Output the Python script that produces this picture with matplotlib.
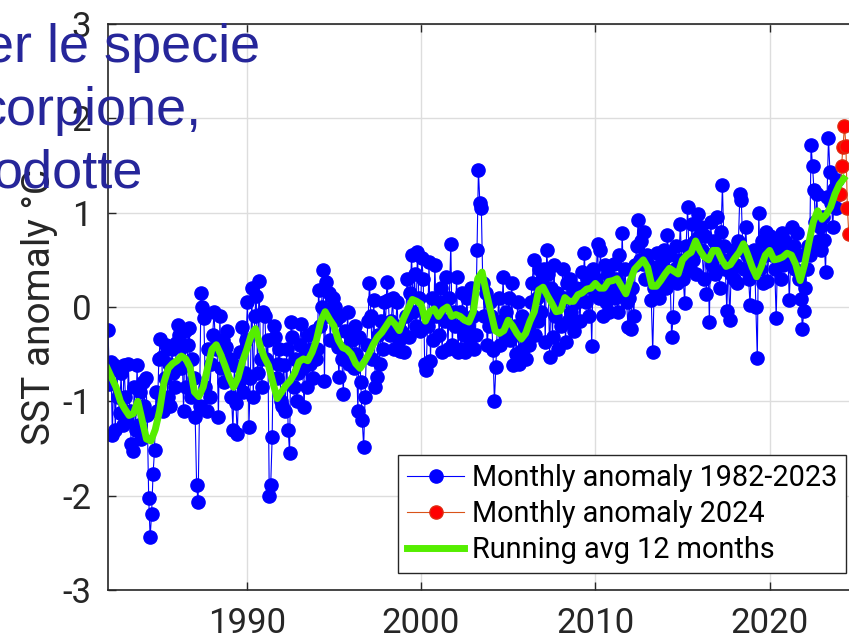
import numpy as np
import matplotlib.pyplot as plt

plt.rcParams['font.family'] = ['Roboto', 'DejaVu Sans']
plt.rcParams['axes.unicode_minus'] = False

# monthly SST anomaly (°C), Jan 1982 .. Dec 2023, one row per year
anom_82_23 = [
    -0.24, -0.82, -0.58, -1.36, -0.62, -1.30, -0.66, -0.95, -1.12, -0.70, -1.25, -0.62,  # 1982
    -0.95, -1.20, -0.60, -1.10, -1.45, -1.53, -0.85, -1.30, -0.62, -1.25, -0.90, -1.40,  # 1983
    -0.80, -1.05, -0.75, -1.15, -2.02, -2.44, -2.19, -1.77, -1.52, -0.90, -1.10, -0.55,  # 1984
    -0.34, -0.53, -1.10, -0.75, -0.40, -0.95, -0.60, -1.05, -0.45, -0.70, -0.85, -0.38,  # 1985
    -0.19, -0.30, -0.65, -0.42, -1.10, -0.25, -0.85, -0.40, -0.22, -0.95, -0.55, -0.75,  # 1986
    -1.17, -1.89, -2.07, -1.05, 0.15, 0.00, -0.12, -0.85, -1.10, -0.45, -0.95, -0.60,    # 1987
    -0.30, -0.05, -0.45, -0.38, -1.17, -0.10, -0.65, -0.35, -0.80, -0.42, -0.25, -0.55,  # 1988
    -0.55, -0.95, -1.30, -0.62, -1.02, -1.35, -0.80, -0.48, -0.21, -0.90, -0.70, -0.35,  # 1989
    0.05, -1.27, -0.75, 0.20, -0.95, -0.10, 0.12, -0.70, 0.28, -0.55, -0.85, -0.05,      # 1990
    -0.10, -0.55, -0.35, -2.00, -1.89, -1.38, -0.20, -0.32, -0.75, -0.60, -0.45, -1.00,  # 1991
    -1.05, -0.62, -1.10, -0.45, -1.30, -1.55, -0.16, -0.32, -0.85, -0.55, -1.00, -0.70,  # 1992
    -0.40, -0.18, -0.65, -1.06, -0.50, -0.85, -0.30, -0.60, -0.45, -0.75, -0.25, -0.55,  # 1993
    -0.45, 0.18, -0.20, 0.00, 0.39, -0.78, 0.27, -0.10, 0.15, -0.35, -0.05, 0.10,        # 1994
    0.00, -0.14, -0.42, -0.74, -0.10, -0.55, -0.92, -0.25, -0.48, -0.05, -0.60, -0.30,   # 1995
    -0.35, -0.65, -0.20, -0.50, -1.10, -0.32, -0.80, -1.20, -1.48, -0.95, -0.40, -0.15,  # 1996
    0.25, -0.10, -0.55, 0.07, -0.85, -0.74, -0.30, -0.60, -0.15, -0.45, 0.05, -0.20,     # 1997
    0.27, 0.07, -0.30, -0.15, 0.10, -0.45, -0.20, 0.05, -0.35, -0.47, -0.25, -0.32,      # 1998
    -0.48, -0.10, 0.30, -0.32, 0.15, 0.55, -0.05, 0.35, -0.20, 0.58, 0.10, -0.25,        # 1999
    0.52, 0.30, -0.60, -0.67, -0.20, 0.48, -0.57, 0.10, -0.35, 0.45, -0.10, 0.05,        # 2000
    -0.30, 0.20, -0.48, 0.05, -0.15, 0.32, -0.45, 0.10, 0.67, -0.40, -0.05, -0.20,       # 2001
    0.32, -0.48, -0.05, -0.45, 0.15, -0.30, -0.48, 0.10, -0.20, -0.40, 0.20, -0.10,      # 2002
    -0.45, -0.30, 0.60, 1.45, 1.10, 1.05, 0.25, -0.10, 0.15, -0.40, -0.20, 0.05,         # 2003
    -0.10, -0.46, -1.00, -0.64, -0.20, 0.10, -0.40, -0.15, 0.32, -0.30, -0.05, -0.25,    # 2004
    0.10, -0.35, 0.25, -0.62, -0.20, -0.50, 0.05, -0.60, -0.30, -0.10, -0.45, -0.25,     # 2005
    -0.55, -0.20, -0.40, 0.05, 0.25, 0.50, -0.30, 0.10, -0.15, 0.40, -0.05, 0.30,        # 2006
    0.40, -0.37, 0.60, 0.35, -0.53, 0.20, -0.32, 0.45, -0.10, 0.15, -0.45, 0.05,         # 2007
    -0.20, 0.40, 0.10, -0.37, 0.25, -0.15, 0.30, -0.05, 0.15, -0.25, 0.20, 0.05,         # 2008
    0.10, -0.15, 0.37, 0.20, 0.57, 0.05, 0.30, -0.10, 0.25, -0.41, 0.40, 0.15,           # 2009
    0.30, 0.67, 0.10, 0.60, 0.20, -0.10, 0.45, 0.05, 0.35, -0.05, 0.25, 0.15,            # 2010
    0.46, 0.10, 0.30, -0.05, 0.55, 0.20, 0.78, 0.15, 0.40, 0.05, -0.21, 0.10,            # 2011
    -0.23, 0.20, -0.10, 0.45, 0.65, 0.92, 0.50, 0.70, 0.46, 0.80, 0.30, 0.55,            # 2012
    0.46, 0.30, 0.07, -0.48, 0.20, 0.35, 0.57, 0.10, 0.45, 0.25, 0.50, 0.60,             # 2013
    0.20, 0.76, 0.55, 0.30, -0.32, -0.11, 0.40, 0.65, 0.25, 0.50, 0.88, 0.45,            # 2014
    0.30, 0.04, 0.65, 1.06, 0.55, 0.40, 0.88, 0.50, 0.70, 0.35, 0.99, 0.75,              # 2015
    0.85, 0.60, 0.30, 0.75, 0.14, 0.55, -0.16, 0.90, 0.45, 0.70, 0.35, 0.95,             # 2016
    0.55, 0.20, 0.80, 1.29, 0.65, 0.40, -0.04, 0.50, -0.14, 0.35, 0.60, 0.30,            # 2017
    0.45, 0.25, 0.70, 1.20, 1.13, 0.60, 0.40, 0.85, 0.55, 0.30, 0.02, 0.50,              # 2018
    0.35, 0.60, 0.00, -0.54, 1.00, 0.40, 0.70, 0.25, 0.55, 0.80, 0.28, 0.62,             # 2019
    0.75, 0.55, 0.70, 0.40, -0.12, 0.60, 0.65, 0.30, 0.78, 0.45, 0.70, 0.50,             # 2020
    0.60, 0.07, 0.50, 0.85, 0.65, 0.40, 0.78, 0.55, 0.30, 0.09, -0.23, -0.04,            # 2021
    0.20, 0.40, 0.65, 0.55, 1.72, 1.50, 1.24, 0.90, 1.20, 0.70, 0.85, 0.60,              # 2022
    0.95, 0.71, 0.37, 1.17, 1.79, 1.43, 1.10, 0.85, 1.25, 1.05, 1.35, 1.20,              # 2023
]

# 2024 months shown in red
anom_2024 = [1.20, 1.50, 1.70, 1.92, 1.71, 1.05, 0.77]

# 12-month running average, read every quarter from 1982.0
avg_12m = [
    -0.65, -0.75, -0.85, -1.00,   # 1982
    -1.08, -1.15, -1.13, -1.00,   # 1983
    -1.20, -1.40, -1.42, -1.30,   # 1984
    -1.10, -0.80, -0.65, -0.60,   # 1985
    -0.57, -0.52, -0.55, -0.64,   # 1986
    -0.90, -0.95, -0.85, -0.65,   # 1987
    -0.45, -0.40, -0.50, -0.62,   # 1988
    -0.75, -0.85, -0.75, -0.58,   # 1989
    -0.45, -0.30, -0.23, -0.40,   # 1990
    -0.53, -0.62, -0.80, -0.97,   # 1991
    -0.90, -0.83, -0.78, -0.70,   # 1992
    -0.58, -0.55, -0.57, -0.48,   # 1993
    -0.35, -0.15, -0.05, -0.13,   # 1994
    -0.20, -0.35, -0.43, -0.45,   # 1995
    -0.50, -0.60, -0.65, -0.58,   # 1996
    -0.50, -0.40, -0.32, -0.27,   # 1997
    -0.20, -0.13, -0.18, -0.25,   # 1998
    -0.12, -0.02, 0.08, 0.06,     # 1999
    0.03, -0.15, -0.05, -0.02,    # 2000
    -0.10, -0.03, 0.00, -0.10,    # 2001
    -0.08, -0.10, -0.14, -0.16,   # 2002
    -0.05, 0.30, 0.37, 0.15,      # 2003
    -0.05, -0.25, -0.28, -0.25,   # 2004
    -0.14, -0.20, -0.28, -0.34,   # 2005
    -0.28, -0.15, -0.05, 0.18,    # 2006
    0.21, 0.12, 0.04, -0.05,      # 2007
    -0.04, 0.10, 0.06, 0.06,      # 2008
    0.13, 0.15, 0.19, 0.20,       # 2009
    0.25, 0.20, 0.20, 0.27,       # 2010
    0.28, 0.30, 0.22, 0.14,       # 2011
    0.28, 0.40, 0.45, 0.50,       # 2012
    0.42, 0.22, 0.22, 0.28,       # 2013
    0.35, 0.41, 0.38, 0.35,       # 2014
    0.50, 0.55, 0.58, 0.70,       # 2015
    0.60, 0.53, 0.50, 0.60,       # 2016
    0.60, 0.50, 0.43, 0.45,       # 2017
    0.52, 0.58, 0.67, 0.55,       # 2018
    0.42, 0.32, 0.42, 0.55,       # 2019
    0.60, 0.50, 0.51, 0.53,       # 2020
    0.57, 0.55, 0.45, 0.28,       # 2021
    0.45, 0.68, 0.90, 1.02,       # 2022
    0.93, 0.98, 1.06, 1.20,       # 2023
    1.30, 1.36,                   # 2024
]

xticks = [1990, 2000, 2010, 2020]
yticks = [-3, -2, -1, 0, 1, 2, 3]

t_mon = 1982 + (np.arange(len(anom_82_23)) + 0.5) / 12
t_2024 = 2024 + (np.arange(len(anom_2024)) + 0.5) / 12
t_avg = 1982 + np.arange(len(avg_12m)) * 0.25

fig = plt.figure(figsize=(8.49, 6.37), dpi=100)
# the original figure is cropped on the right, so the axes run past the edge
ax = fig.add_axes([0.1272, 0.0738, 0.882, 0.8885])

ax.plot(t_mon, anom_82_23, '-o', color='blue', lw=0.8, ms=9.5,
        mfc='blue', mec='blue', label='Monthly anomaly 1982-2023')
ax.plot(t_2024, anom_2024, '-o', color='#d95319', lw=0.8, ms=9.5,
        mfc='red', mec='#e02a10', label='Monthly anomaly 2024')
ax.plot(t_avg, avg_12m, color='#55ee00', lw=5, label='Running avg 12 months')

ax.set_xlim(1982.04, 2025)
ax.set_ylim(-3, 3)
ax.set_xticks(xticks)
ax.set_yticks(yticks)
ax.grid(True, color='#dddddd', lw=1)
ax.set_axisbelow(True)
ax.tick_params(direction='in', length=6, width=1, top=True, right=True,
               labelsize=25, colors='#262626', pad=12)
for s in ax.spines.values():
    s.set_color('#262626')
    s.set_linewidth(1.2)

ax.set_ylabel('SST anomaly °C', fontsize=28, color='#262626')
ax.yaxis.set_label_coords(-0.067, 0.5)

leg = ax.legend(loc='upper left', bbox_to_anchor=(398 / 849, 1 - 455 / 637),
                bbox_transform=fig.transFigure, fontsize=20.8, fancybox=False,
                framealpha=1, edgecolor='#262626', borderpad=0.3,
                labelspacing=0.28, handlelength=2.0, handletextpad=0.25,
                borderaxespad=0)
leg.get_frame().set_linewidth(1.0)

# overlaid slide text, cut off at the left border
txt_color = '#26269a'
fig.text(260 / 849, 1 - 62 / 637, 'er le specie', ha='right', va='baseline',
         fontsize=39, color=txt_color, family='Liberation Sans')
fig.text(202 / 849, 1 - 125 / 637, 'corpione,', ha='right', va='baseline',
         fontsize=39, color=txt_color, family='Liberation Sans')
fig.text(143 / 849, 1 - 188 / 637, 'odotte', ha='right', va='baseline',
         fontsize=39, color=txt_color, family='Liberation Sans')

fig.savefig('out.png', dpi=100)
